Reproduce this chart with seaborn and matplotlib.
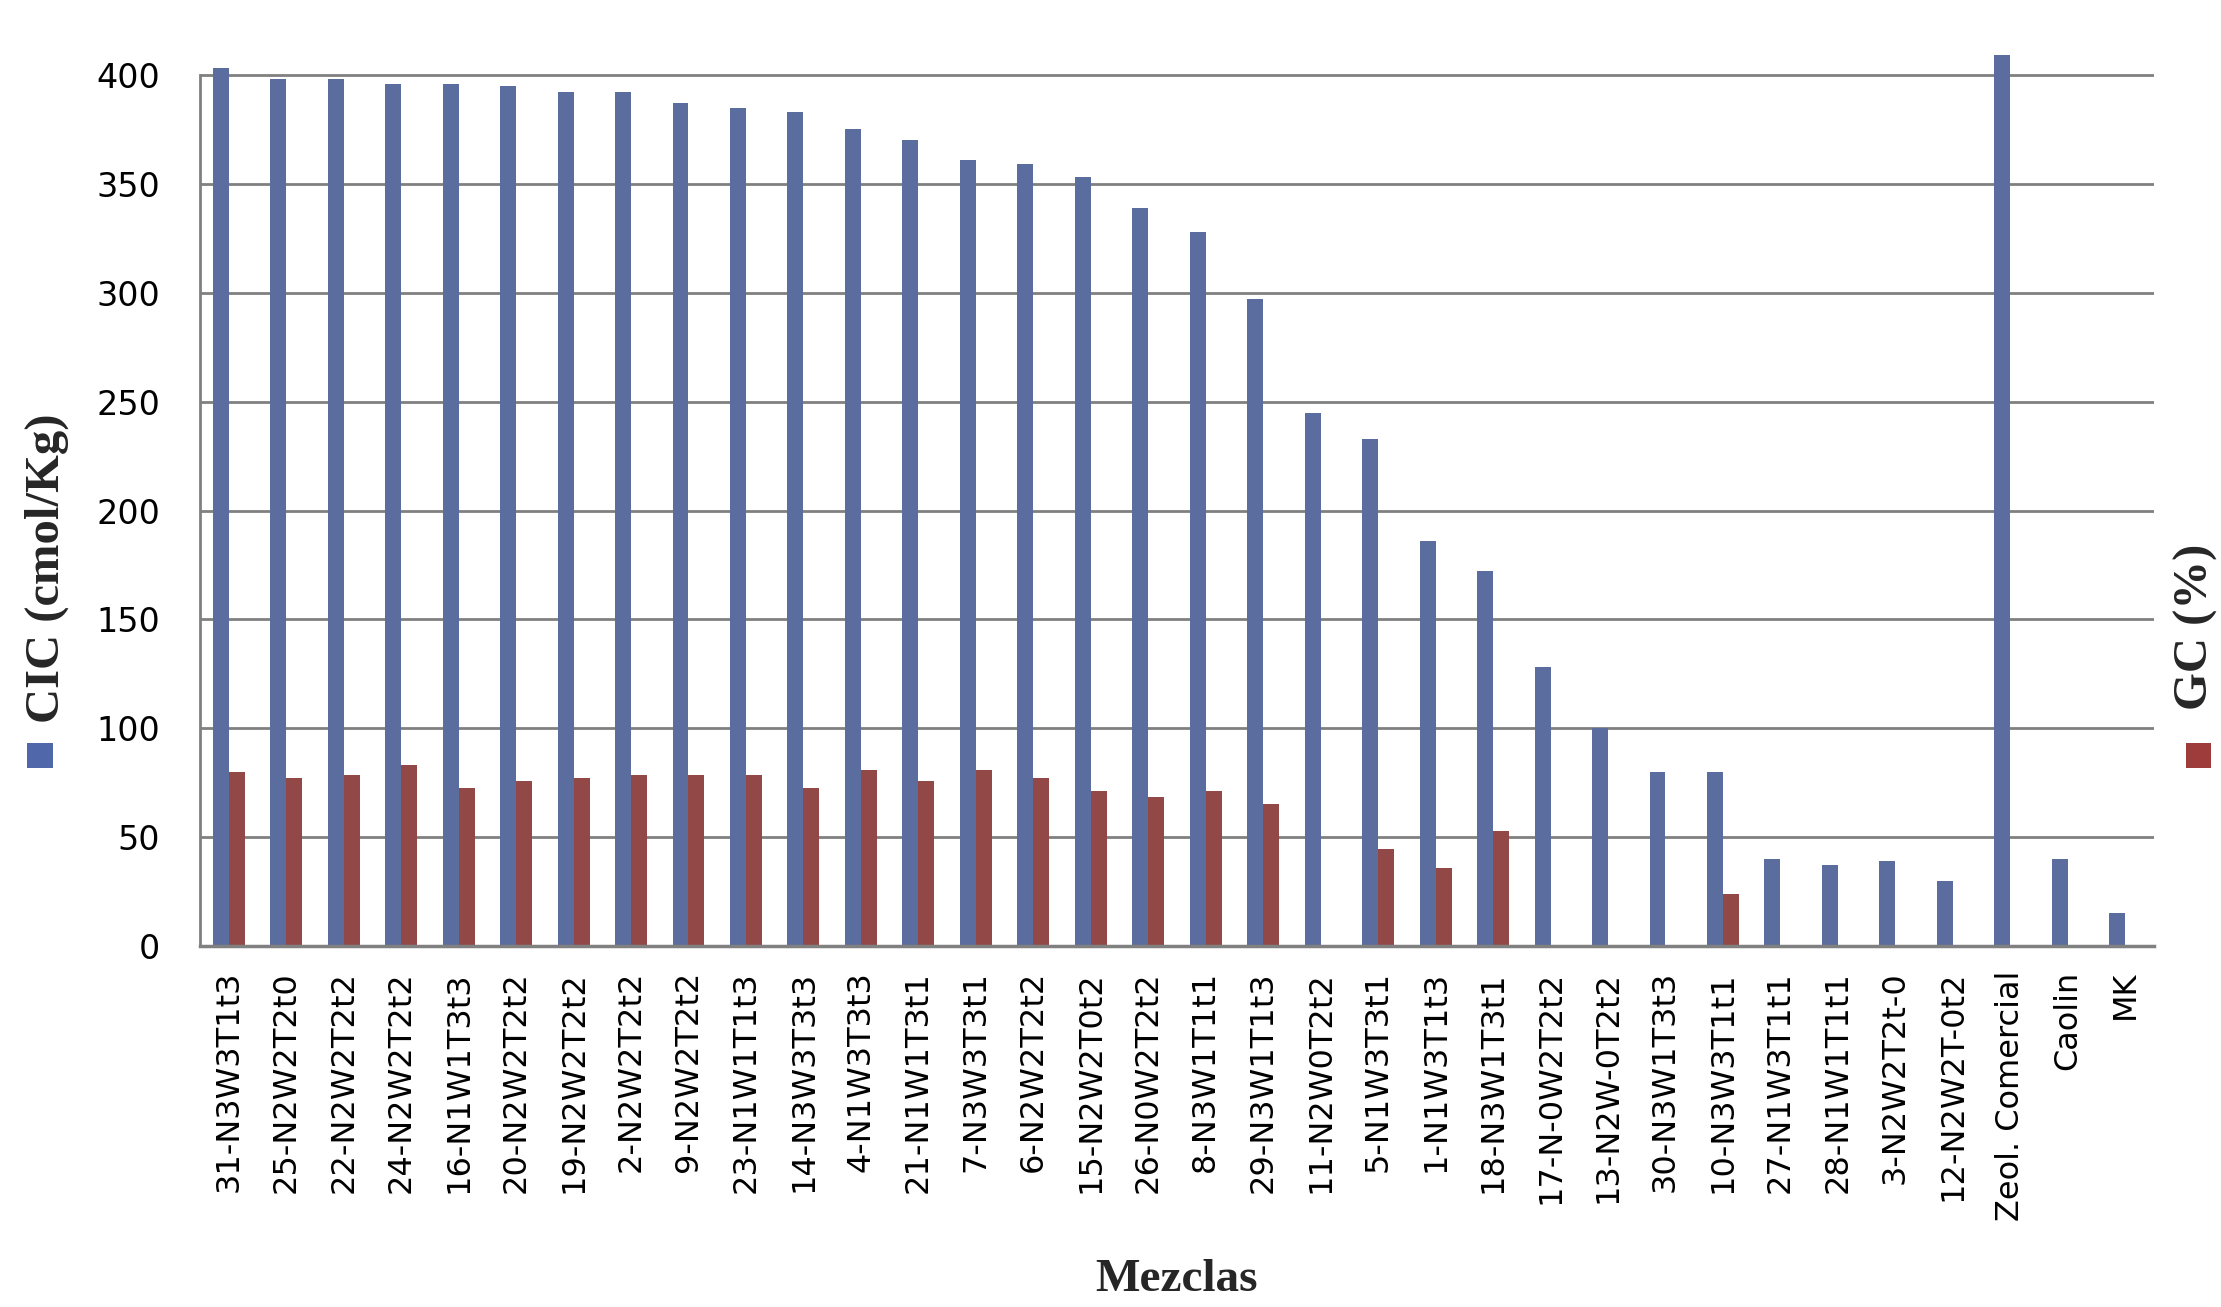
import numpy as np
import pandas as pd
import matplotlib
matplotlib.use('Agg')
import matplotlib.pyplot as plt
from matplotlib.patches import Rectangle
import seaborn as sns

# ─── Data ────────────────────────────────────────────────────────────────────
mezclas = [
    '31-N3W3T1t3', '25-N2W2T2t0', '22-N2W2T2t2', '24-N2W2T2t2', '16-N1W1T3t3',
    '20-N2W2T2t2', '19-N2W2T2t2', '2-N2W2T2t2', '9-N2W2T2t2', '23-N1W1T1t3',
    '14-N3W3T3t3', '4-N1W3T3t3', '21-N1W1T3t1', '7-N3W3T3t1', '6-N2W2T2t2',
    '15-N2W2T0t2', '26-N0W2T2t2', '8-N3W1T1t1', '29-N3W1T1t3', '11-N2W0T2t2',
    '5-N1W3T3t1', '1-N1W3T1t3', '18-N3W1T3t1', '17-N-0W2T2t2', '13-N2W-0T2t2',
    '30-N3W1T3t3', '10-N3W3T1t1', '27-N1W3T1t1', '28-N1W1T1t1', '3-N2W2T2t-0',
    '12-N2W2T-0t2', 'Zeol. Comercial', 'Caolin', 'MK',
]

cic = [403, 398, 398, 396, 396, 395, 392, 392, 387, 385,
       383, 375, 370, 361, 359, 353, 339, 328, 297, 245,
       233, 186, 172, 128, 100, 80, 80, 40, 37, 39,
       30, 409, 40, 15]

gc = [80, 77, 78.5, 83, 72.5, 76, 77, 78.5, 78.5, 78.5,
      72.5, 81, 76, 81, 77, 71, 68.5, 71, 65, np.nan,
      44.5, 36, 53, np.nan, np.nan, np.nan, 24, np.nan, np.nan, np.nan,
      np.nan, np.nan, np.nan, np.nan]

series_names = ['CIC (cmol/Kg)', 'GC (%)']
colors = ['#5068A9', '#9E3C3B']

df = pd.DataFrame({
    'Mezcla': mezclas * 2,
    'valor': cic + gc,
    'serie': [series_names[0]] * len(mezclas) + [series_names[1]] * len(mezclas),
})

# ─── Style ───────────────────────────────────────────────────────────────────
sns.set_style('white')
plt.rcParams['font.family'] = ['DejaVu Sans']
GRID = '#808080'

fig = plt.figure(figsize=(22.21, 13.07), dpi=100)
ax = fig.add_axes([0.09005, 0.27621, 0.87978, 0.68638])

sns.barplot(data=df, x='Mezcla', y='valor', hue='serie', palette=colors,
            width=0.556, errorbar=None, linewidth=0, legend=False, ax=ax)

ax.set_ylim(0, 412)
ax.set_xlim(-0.5, len(mezclas) - 0.5)
ax.set_yticks(np.arange(0, 401, 50))
ax.yaxis.grid(True, color=GRID, linewidth=2.0)
ax.set_axisbelow(True)

for side in ['top', 'right']:
    ax.spines[side].set_visible(False)
ax.spines['left'].set_bounds(0, 400)
ax.spines['left'].set_color(GRID)
ax.spines['left'].set_linewidth(2.0)
ax.spines['bottom'].set_color(GRID)
ax.spines['bottom'].set_linewidth(2.5)

ax.tick_params(axis='y', length=10.8, width=2.0, color=GRID, pad=18,
               labelsize=24, labelcolor='black')
ax.tick_params(axis='x', length=0, pad=18, labelsize=23, labelcolor='black')
ax.set_xticks(range(len(mezclas)))
ax.set_xticklabels(mezclas, rotation=90)
ax.set_xlabel('')
ax.set_ylabel('')

# ─── Axis titles with colour keys ────────────────────────────────────────────
W, H = 2221, 1307
serif = ['Liberation Serif', 'DejaVu Serif']
fig.text(47 / W, 1 - 568 / H, series_names[0], rotation=90, ha='center',
         va='center', fontsize=35, fontweight='bold', family=serif)
fig.text(2196 / W, 1 - 627 / H, series_names[1], rotation=90, ha='center',
         va='center', fontsize=35, fontweight='bold', family=serif)
fig.add_artist(Rectangle((27 / W, 1 - 768 / H), 26 / W, 25 / H,
                         transform=fig.transFigure, color=colors[0], lw=0))
fig.add_artist(Rectangle((2186 / W, 1 - 768 / H), 25 / W, 25 / H,
                         transform=fig.transFigure, color=colors[1], lw=0))
fig.text(1176 / W, 1 - 1280 / H, 'Mezclas', ha='center', va='center',
         fontsize=34, fontweight='bold', family=serif)

fig.savefig('out.png', dpi=100)
plt.close(fig)
